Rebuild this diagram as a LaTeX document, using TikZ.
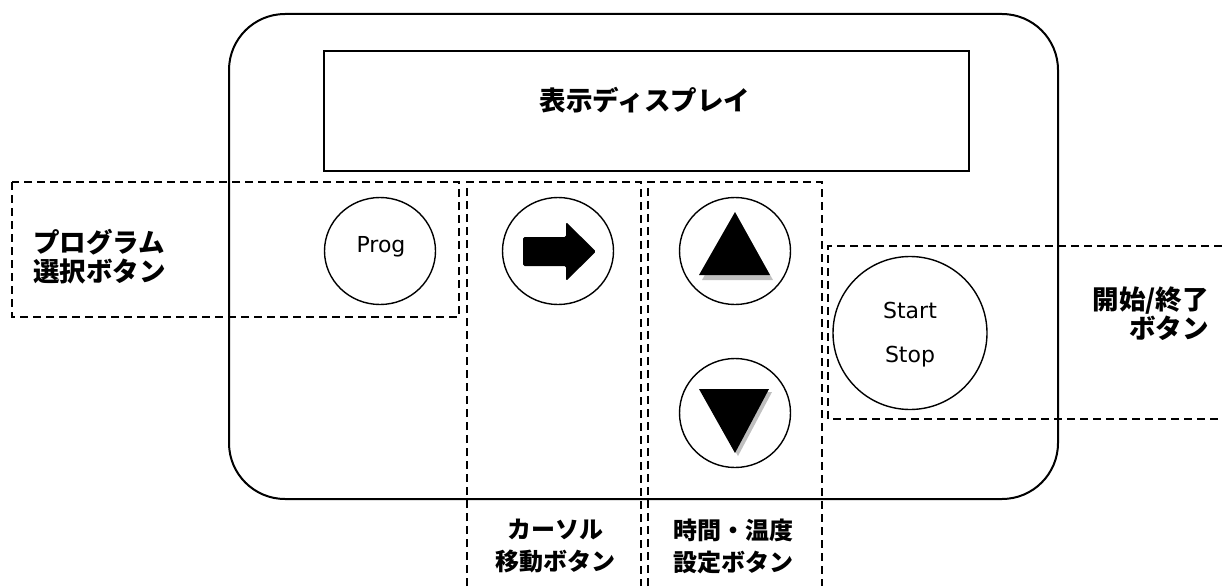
\documentclass[tikz,border=0pt]{standalone}
\usepackage{fontspec}
\usetikzlibrary{shapes.geometric}
\newfontfamily\jp{Noto Sans CJK JP}
\newfontfamily\lat{DejaVu Sans}
\tikzset{
  frame/.style={draw, line width=2pt, rounded corners=56pt},
  disp/.style={draw, line width=1.6pt},
  btn/.style={draw, line width=1.4pt},
  grp/.style={draw, line width=1.3pt, dash pattern=on 8pt off 5pt},
  lbl/.style={font=\jp\bfseries\fontsize{24}{32}\selectfont, inner sep=0pt},
  bigl/.style={font=\jp\bfseries\fontsize{26.5}{29}\selectfont, inner sep=0pt},
  btxt/.style={font=\lat\fontsize{22}{26}\selectfont, inner sep=0pt},
  shade/.style={fill=black!25, draw=none},
  sym/.style={fill=black, draw=none},
}
\begin{document}
\begin{tikzpicture}[x=1pt, y=-1pt]
\useasboundingbox (0,0) rectangle (1222,586);
% outer body
\draw[frame] (229,14) rectangle (1058,499);
% display
\node[disp, minimum width=645pt, minimum height=120pt, anchor=north west, inner sep=0pt] (disp) at (323,50) {};
\node[lbl, font=\jp\bfseries\fontsize{26.5}{28}\selectfont] (disptxt) at (645,100) {表示ディスプレイ};
% group boxes
\draw[grp] (12,182) rectangle (459,317);
\coordinate (c1) at (467,586);
\coordinate (c2) at (641,586);
\draw[grp] (c1) -- (467,182) -- (641,182) -- (c2);
\coordinate (t1) at (648,586);
\coordinate (t2) at (822,586);
\draw[grp] (t1) -- (648,182) -- (822,182) -- (t2);
\coordinate (s1) at (1222,246);
\coordinate (s2) at (1222,419);
\draw[grp] (s1) -- (828,246) -- (828,419) -- (s2);
% buttons
\node[btn, ellipse, minimum width=111pt, minimum height=107pt, inner sep=0pt] (prog) at (380,251) {};
\node[btxt] (progtxt) at (381,247) {Prog};
\node[btn, ellipse, minimum width=111pt, minimum height=107pt, inner sep=0pt] (cur) at (558,251) {};
\node[btn, ellipse, minimum width=111pt, minimum height=107pt, inner sep=0pt] (up) at (735,251) {};
\node[btn, ellipse, minimum width=111pt, minimum height=109pt, inner sep=0pt] (down) at (735,413) {};
\node[btn, ellipse, minimum width=154pt, minimum height=153pt, inner sep=0pt] (ss) at (910,333) {};
\node[btxt] (starttxt) at (910,310) {Start};
\node[btxt] (stoptxt) at (910,357) {Stop};
% arrow symbol
\fill[sym, rounded corners=1.5pt] (523,237) -- (566,237) -- (566,222) -- (596,251.5) -- (566,281) -- (566,266) -- (523,266) -- cycle;
% up triangle
\fill[shade] (737,217) -- (773,280) -- (702,280) -- cycle;
\fill[sym] (735,212) -- (770,275) -- (699,275) -- cycle;
% down triangle
\fill[shade] (702,392) -- (772,392) -- (738,456) -- cycle;
\fill[sym] (699,389) -- (769,389) -- (735,453) -- cycle;
% labels
\node[bigl, align=left, anchor=west] (proglbl) at (33,257) {プログラム\\選択ボタン};
\node[bigl, align=right, anchor=east] (sslbl) at (1209,314) {開始/終了\\ボタン};
\node[lbl, align=center] (curlbl) at (555,546) {カーソル\\移動ボタン};
\node[lbl, align=center] (tmlbl) at (733,546) {時間・温度\\設定ボタン};
\end{tikzpicture}
\end{document}
